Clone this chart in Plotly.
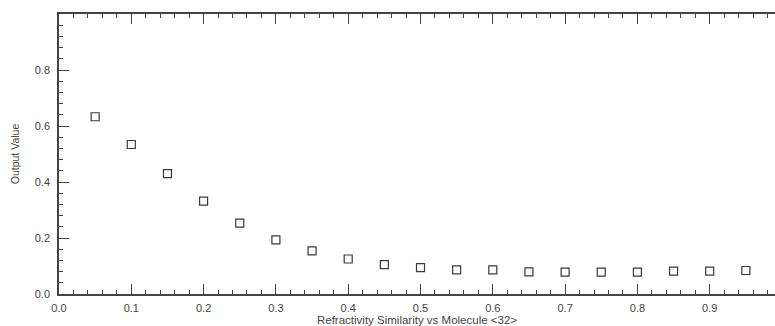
import plotly.graph_objects as go

# Refractivity similarity thresholds and the model output at each
similarity = [0.05, 0.10, 0.15, 0.20, 0.25, 0.30, 0.35, 0.40, 0.45, 0.50,
              0.55, 0.60, 0.65, 0.70, 0.75, 0.80, 0.85, 0.90, 0.95]
output_value = [0.633, 0.534, 0.430, 0.332, 0.253, 0.193, 0.154, 0.125, 0.105, 0.094,
                0.086, 0.086, 0.079, 0.078, 0.078, 0.078, 0.082, 0.082, 0.084]

x_ticks = [0.0, 0.1, 0.2, 0.3, 0.4, 0.5, 0.6, 0.7, 0.8, 0.9]
y_ticks = [0.0, 0.2, 0.4, 0.6, 0.8]

W, H = 775, 326
L, T, B = 59, 14, 32
x_max = (W - L) / 723 * 1.0  # one x unit spans 723 px

FONT = "Liberation Sans, Arial, sans-serif"
AX = "#444444"
TXT = "#444444"

fig = go.Figure()
fig.add_trace(go.Scatter(
    x=similarity, y=output_value, mode="markers",
    marker=dict(symbol="square-open", size=8, color="#3a3a3a",
                line=dict(width=1.2, color="#3a3a3a")),
    showlegend=False, cliponaxis=False,
))

common = dict(
    showgrid=False, zeroline=False, showline=True, linecolor=AX, linewidth=1.5,
    ticks="inside", tickcolor=AX, ticklen=10, tickwidth=1.2,
    tickfont=dict(family=FONT, size=11, color=TXT),
    minor=dict(ticks="inside", ticklen=4, tickcolor=AX, tickwidth=1),
)

fig.update_xaxes(
    range=[0, x_max], tickvals=x_ticks, ticktext=[f"{v:.1f}" for v in x_ticks],
    mirror="ticks", minor_dtick=0.02, ticklabelstandoff=3,
    title=dict(text="Refractivity Similarity vs Molecule <32>", standoff=3,
               font=dict(family=FONT, size=11.5, color=TXT)),
    **common,
)
fig.update_yaxes(
    range=[0, 1.0], tickvals=y_ticks, ticktext=[f"{v:.1f}" for v in y_ticks],
    mirror=False, minor_dtick=0.04, ticklabelstandoff=5,
    title=dict(text="Output Value", standoff=13,
               font=dict(family=FONT, size=10.5, color=TXT)),
    **common,
)

fig.update_layout(
    width=W, height=H,
    margin=dict(l=L, r=0, t=T, b=B),
    paper_bgcolor="white", plot_bgcolor="white",
)

fig.write_html("out.html")
